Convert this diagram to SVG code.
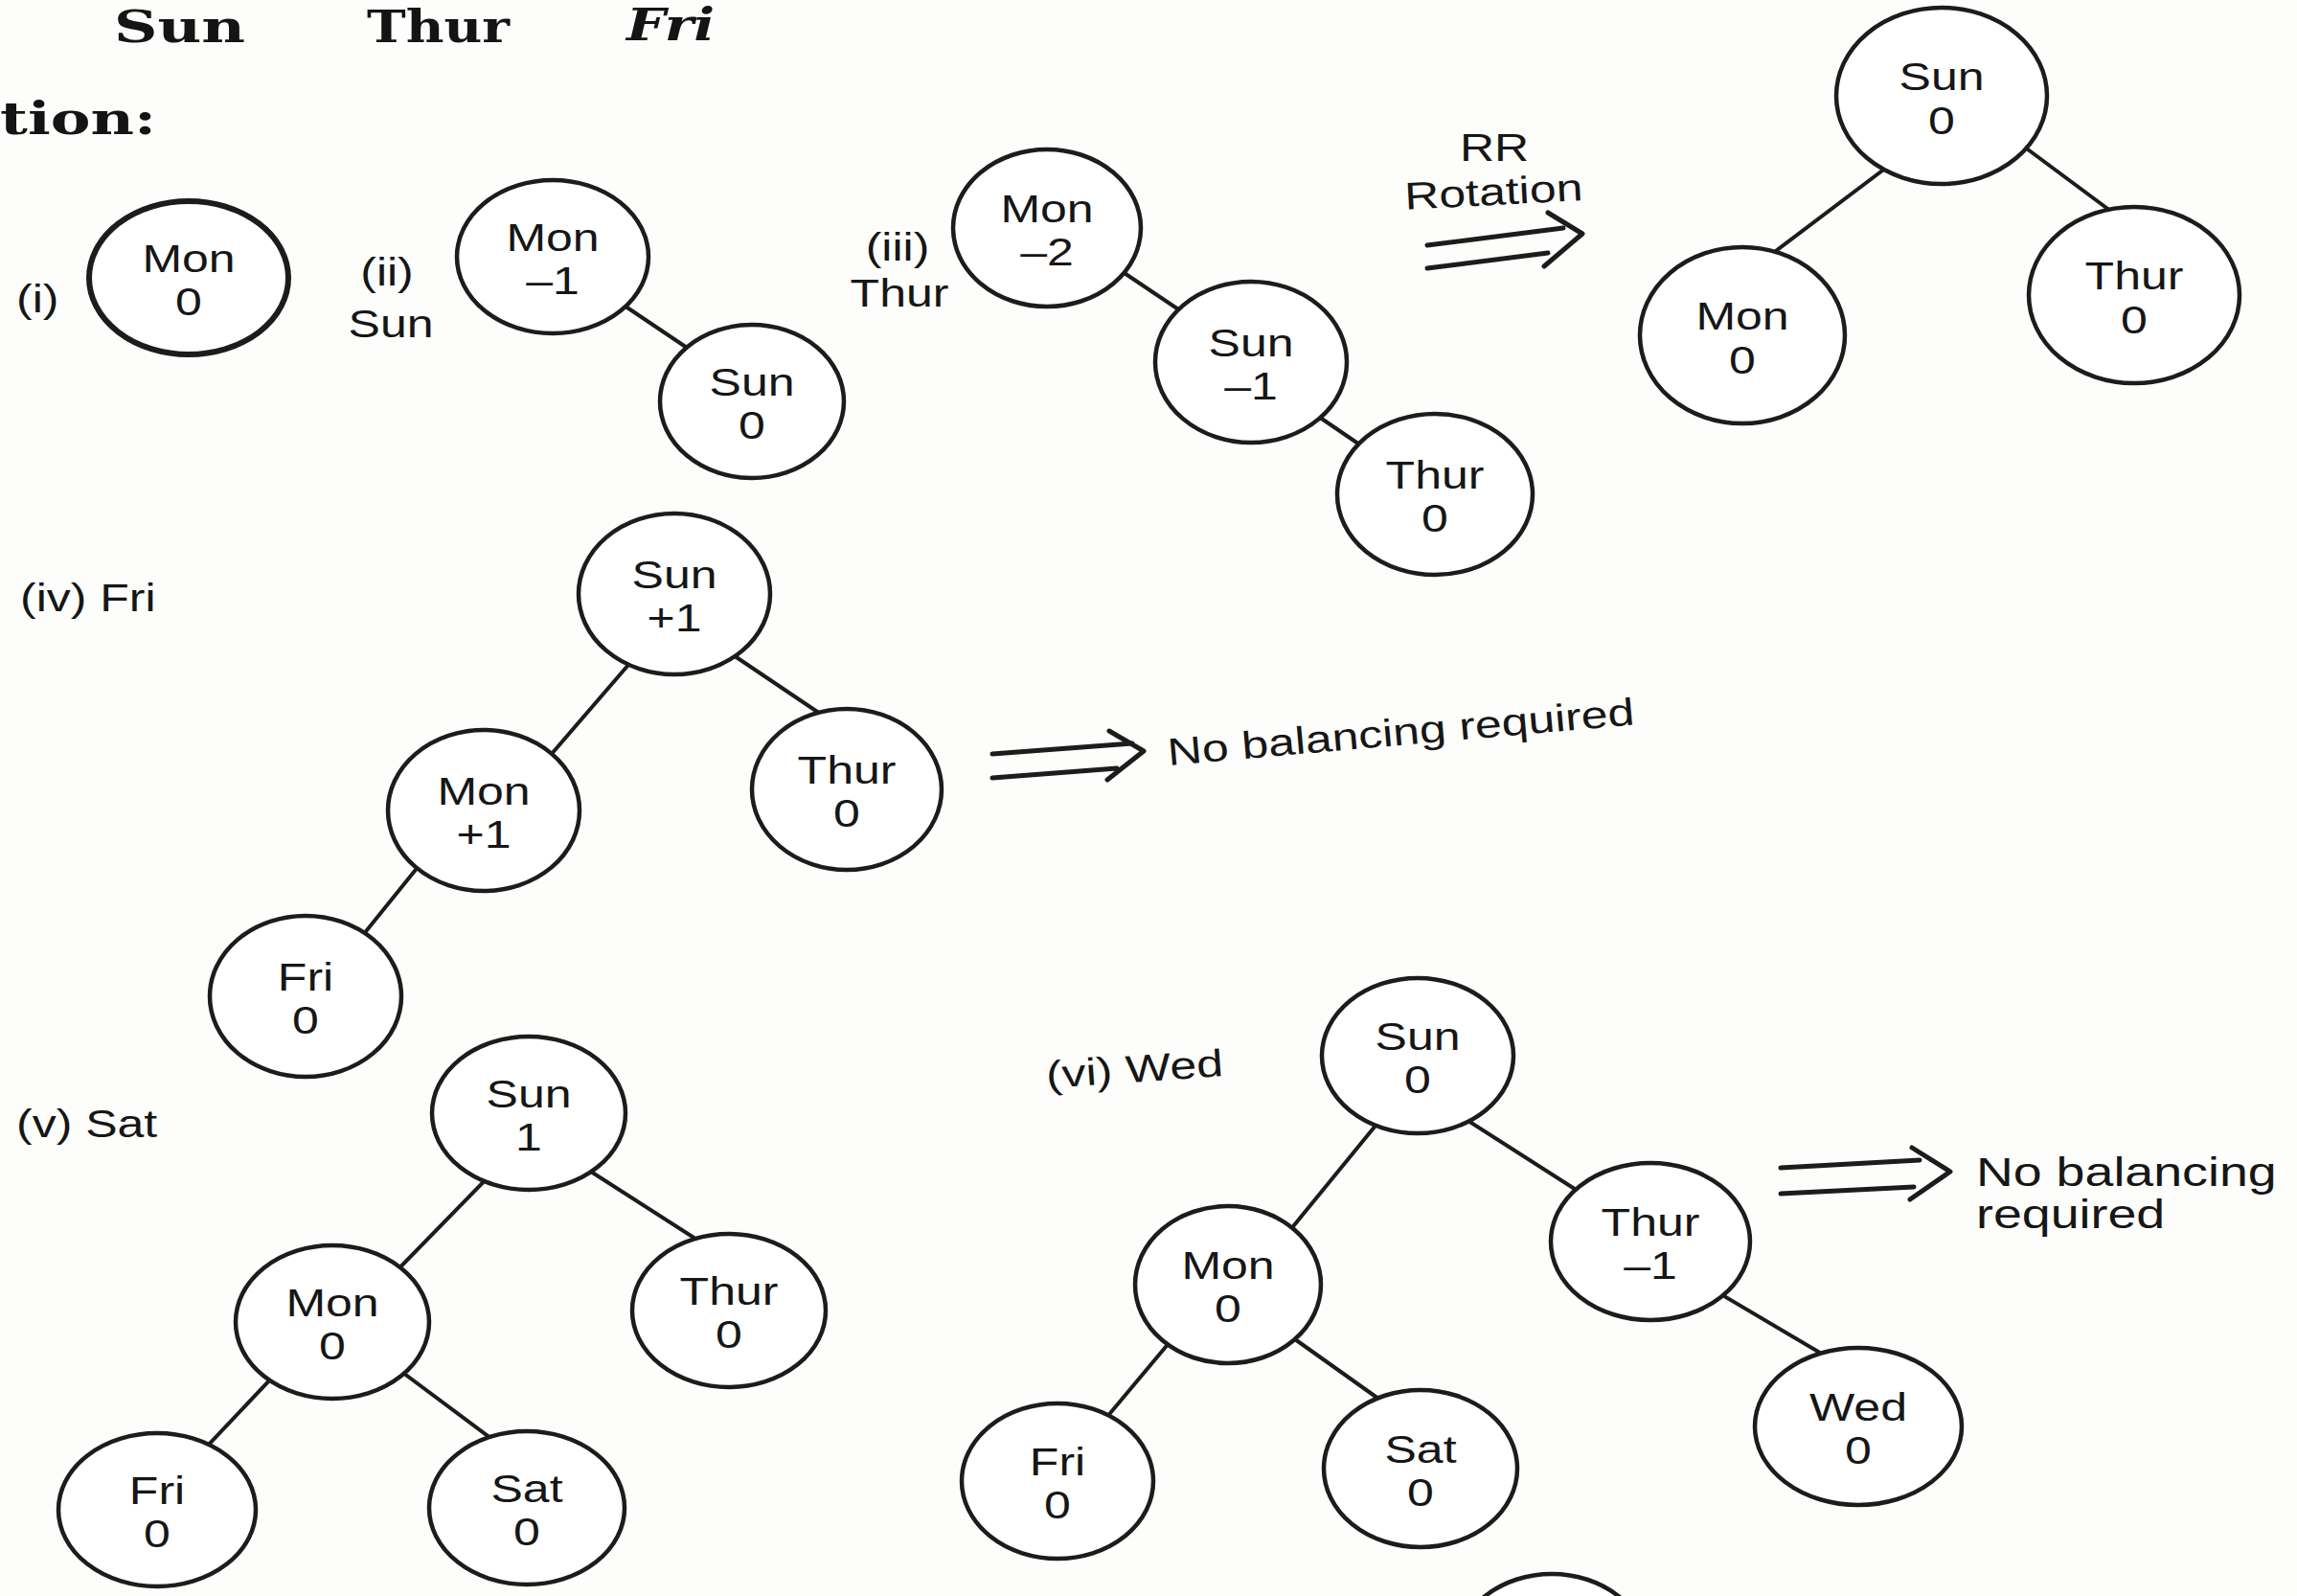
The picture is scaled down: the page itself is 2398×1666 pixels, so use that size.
<svg xmlns="http://www.w3.org/2000/svg" width="2398" height="1666" viewBox="0 0 2398 1666">
  <style>
    .node ellipse { fill: #ffffff; stroke: #1c1c1c; stroke-width: 4.5; }
    .node text { font-family: "Liberation Sans", Arial, sans-serif; font-size: 40px; fill: #161616; text-anchor: middle; }
    .thick ellipse { stroke-width: 6; }
    .ls, .lm { font-family: "Liberation Sans", Arial, sans-serif; font-size: 40px; fill: #161616; }
    .lm { text-anchor: middle; }
    .big { font-size: 42px; }
    .hd { font-family: "DejaVu Serif", "Liberation Serif", serif; font-weight: bold; font-size: 46px; fill: #141414; }
    #connectors line { stroke: #1c1c1c; stroke-width: 4; stroke-linecap: round; }
    #arrows path { fill: none; stroke: #1c1c1c; stroke-width: 5; stroke-linecap: round; stroke-linejoin: round; }
  </style>

  <rect width="2398" height="1666" fill="#fdfdfb"/>

  <!-- heading fragments -->
  <g id="heading">
    <text class="hd" x="119" y="44" textLength="137" lengthAdjust="spacingAndGlyphs">Sun</text>
    <text class="hd" x="383" y="44" textLength="149" lengthAdjust="spacingAndGlyphs">Thur</text>
    <text class="hd" x="654" y="42" font-size="40" font-style="italic" textLength="92" lengthAdjust="spacingAndGlyphs">Fri</text>
    <text class="hd" x="0" y="140" font-size="50" textLength="163" lengthAdjust="spacingAndGlyphs">tion:</text>
  </g>

  <!-- step labels and notes -->
  <g id="labels">
    <text class="ls" transform="translate(17,326) scale(1.25,1)">(i)</text>
    <text class="lm" transform="translate(404,298) scale(1.25,1)">(ii)</text>
    <text class="lm" transform="translate(408,352) scale(1.25,1)">Sun</text>
    <text class="lm" transform="translate(937,272) scale(1.25,1)">(iii)</text>
    <text class="lm" transform="translate(939,320) scale(1.25,1)">Thur</text>
    <text class="lm" transform="translate(1560,168) scale(1.25,1)">RR</text>
    <text class="lm" transform="translate(1560,214) rotate(-3) scale(1.25,1)">Rotation</text>
    <text class="ls" transform="translate(21,638) scale(1.25,1)">(iv) Fri</text>
    <text class="ls" transform="translate(1220,799) rotate(-5) scale(1.25,1)">No balancing required</text>
    <text class="ls" transform="translate(17,1187) scale(1.25,1)">(v) Sat</text>
    <text class="ls" transform="translate(1093,1136) rotate(-4) scale(1.25,1)">(vi) Wed</text>
    <text class="ls big" transform="translate(2063,1238) scale(1.28,1)">No balancing</text>
    <text class="ls big" transform="translate(2063,1282) scale(1.28,1)">required</text>
  </g>

  <!-- double arrows -->
  <g id="arrows">
    <path d="M1490,256 L1632,238 M1490,280 L1616,264 M1616,222 L1652,244 L1612,278"/>
    <path d="M1036,787 L1182,776 M1036,812 L1166,802 M1158,763 L1194,784 L1156,814"/>
    <path d="M1859,1219 L2004,1211 M1859,1246 L1998,1239 M1996,1198 L2036,1223 L1994,1252"/>
  </g>

  <!-- tree edges (nodes are painted over their ends) -->
  <g id="connectors">
    <line x1="625" y1="301" x2="741" y2="379"/>
    <line x1="1144" y1="265" x2="1260" y2="343"/>
    <line x1="1349" y1="416" x2="1453" y2="487"/>
    <line x1="1993" y1="157" x2="1830" y2="280"/>
    <line x1="2086" y1="133" x2="2222" y2="234"/>
    <line x1="675" y1="672" x2="556" y2="810"/>
    <line x1="742" y1="668" x2="880" y2="761"/>
    <line x1="454" y1="883" x2="362" y2="997"/>
    <line x1="526" y1="1212" x2="398" y2="1343"/>
    <line x1="592" y1="1207" x2="751" y2="1309"/>
    <line x1="302" y1="1419" x2="197" y2="1530"/>
    <line x1="398" y1="1416" x2="535" y2="1518"/>
    <line x1="1454" y1="1153" x2="1333" y2="1301"/>
    <line x1="1511" y1="1156" x2="1672" y2="1259"/>
    <line x1="1237" y1="1382" x2="1139" y2="1499"/>
    <line x1="1328" y1="1381" x2="1463" y2="1477"/>
    <line x1="1773" y1="1337" x2="1927" y2="1428"/>
  </g>

  <g id="nodes">
    <!-- (i) -->
    <g id="i-mon" class="node thick" transform="translate(197,290)"><ellipse rx="104" ry="80"/><g transform="scale(1.25,1)"><text y="-6">Mon</text><text y="39">0</text></g></g>
    <!-- (ii) -->
    <g id="ii-mon" class="node" transform="translate(577,268)"><ellipse rx="100" ry="80"/><g transform="scale(1.25,1)"><text y="-6">Mon</text><text y="39">–1</text></g></g>
    <g id="ii-sun" class="node" transform="translate(785,419)"><ellipse rx="96" ry="80"/><g transform="scale(1.25,1)"><text y="-6">Sun</text><text y="39">0</text></g></g>
    <!-- (iii) -->
    <g id="iii-mon" class="node" transform="translate(1093,238)"><ellipse rx="98" ry="82"/><g transform="scale(1.25,1)"><text y="-6">Mon</text><text y="39">–2</text></g></g>
    <g id="iii-sun" class="node" transform="translate(1306,378)"><ellipse rx="100" ry="84"/><g transform="scale(1.25,1)"><text y="-6">Sun</text><text y="39">–1</text></g></g>
    <g id="iii-thur" class="node" transform="translate(1498,516)"><ellipse rx="102" ry="84"/><g transform="scale(1.25,1)"><text y="-6">Thur</text><text y="39">0</text></g></g>
    <!-- after RR rotation -->
    <g id="rr-sun" class="node" transform="translate(2027,100)"><ellipse rx="110" ry="92"/><g transform="scale(1.25,1)"><text y="-6">Sun</text><text y="40">0</text></g></g>
    <g id="rr-mon" class="node" transform="translate(1819,350)"><ellipse rx="107" ry="92"/><g transform="scale(1.25,1)"><text y="-6">Mon</text><text y="40">0</text></g></g>
    <g id="rr-thur" class="node" transform="translate(2228,308)"><ellipse rx="110" ry="92"/><g transform="scale(1.25,1)"><text y="-6">Thur</text><text y="40">0</text></g></g>
    <!-- (iv) -->
    <g id="iv-sun" class="node" transform="translate(704,620)"><ellipse rx="100" ry="84"/><g transform="scale(1.25,1)"><text y="-6">Sun</text><text y="39">+1</text></g></g>
    <g id="iv-mon" class="node" transform="translate(505,846)"><ellipse rx="100" ry="84"/><g transform="scale(1.25,1)"><text y="-6">Mon</text><text y="39">+1</text></g></g>
    <g id="iv-thur" class="node" transform="translate(884,824)"><ellipse rx="99" ry="84"/><g transform="scale(1.25,1)"><text y="-6">Thur</text><text y="39">0</text></g></g>
    <g id="iv-fri" class="node" transform="translate(319,1040)"><ellipse rx="100" ry="84"/><g transform="scale(1.25,1)"><text y="-6">Fri</text><text y="39">0</text></g></g>
    <!-- (v) -->
    <g id="v-sun" class="node" transform="translate(552,1162)"><ellipse rx="101" ry="80"/><g transform="scale(1.25,1)"><text y="-6">Sun</text><text y="39">1</text></g></g>
    <g id="v-mon" class="node" transform="translate(347,1380)"><ellipse rx="101" ry="80"/><g transform="scale(1.25,1)"><text y="-6">Mon</text><text y="39">0</text></g></g>
    <g id="v-thur" class="node" transform="translate(761,1368)"><ellipse rx="101" ry="80"/><g transform="scale(1.25,1)"><text y="-6">Thur</text><text y="39">0</text></g></g>
    <g id="v-fri" class="node" transform="translate(164,1576)"><ellipse rx="103" ry="80"/><g transform="scale(1.25,1)"><text y="-6">Fri</text><text y="39">0</text></g></g>
    <g id="v-sat" class="node" transform="translate(550,1574)"><ellipse rx="102" ry="80"/><g transform="scale(1.25,1)"><text y="-6">Sat</text><text y="39">0</text></g></g>
    <!-- (vi) -->
    <g id="vi-sun" class="node" transform="translate(1480,1102)"><ellipse rx="100" ry="81"/><g transform="scale(1.25,1)"><text y="-6">Sun</text><text y="39">0</text></g></g>
    <g id="vi-mon" class="node" transform="translate(1282,1341)"><ellipse rx="97" ry="82"/><g transform="scale(1.25,1)"><text y="-6">Mon</text><text y="39">0</text></g></g>
    <g id="vi-thur" class="node" transform="translate(1723,1296)"><ellipse rx="104" ry="82"/><g transform="scale(1.25,1)"><text y="-6">Thur</text><text y="39">–1</text></g></g>
    <g id="vi-fri" class="node" transform="translate(1104,1546)"><ellipse rx="100" ry="81"/><g transform="scale(1.25,1)"><text y="-6">Fri</text><text y="39">0</text></g></g>
    <g id="vi-sat" class="node" transform="translate(1483,1533)"><ellipse rx="101" ry="82"/><g transform="scale(1.25,1)"><text y="-6">Sat</text><text y="39">0</text></g></g>
    <g id="vi-wed" class="node" transform="translate(1940,1489)"><ellipse rx="108" ry="82"/><g transform="scale(1.25,1)"><text y="-6">Wed</text><text y="39">0</text></g></g>
    <!-- next tree, cut by the lower edge -->
    <g id="next-root" class="node" transform="translate(1620,1725)"><ellipse rx="100" ry="82"/></g>
  </g>
</svg>
